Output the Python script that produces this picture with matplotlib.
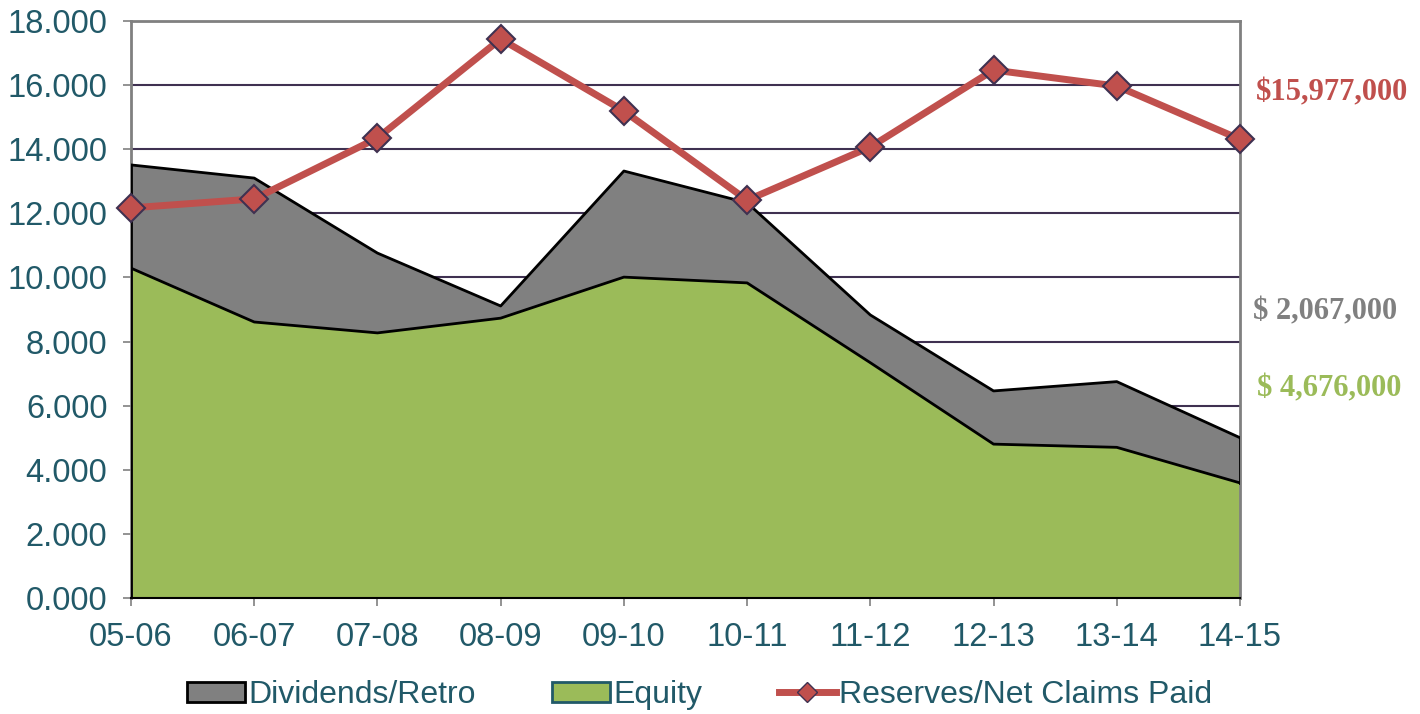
import numpy as np
import matplotlib
matplotlib.use('Agg')
import matplotlib.pyplot as plt
from matplotlib.patches import Patch
from matplotlib.lines import Line2D

# values in $ millions
years = ['05-06', '06-07', '07-08', '08-09', '09-10', '10-11', '11-12', '12-13', '13-14', '14-15']
equity = [10.29, 8.61, 8.27, 8.73, 10.01, 9.83, 7.34, 4.80, 4.70, 3.59]
dividends = [3.22, 4.49, 2.49, 0.38, 3.31, 2.50, 1.49, 1.66, 2.05, 1.41]
reserves = [12.17, 12.45, 14.35, 17.44, 15.19, 12.41, 14.07, 16.47, 15.97, 14.31]
yticks = [0, 2, 4, 6, 8, 10, 12, 14, 16, 18]

right_labels = ['$15,977,000', '$ 2,067,000', '$ 4,676,000']

c_red = '#C0504D'
c_gray = '#808080'
c_green = '#9BBB59'
c_text = '#215968'
c_grid = '#3F3151'

plt.rcParams['font.family'] = ['Liberation Sans', 'DejaVu Sans']

fig = plt.figure(figsize=(14.2, 7.14), dpi=100)
ax = fig.add_axes([131/1420, 1-598/714, (1240-131)/1420, (598-21)/714])

x = np.arange(len(years))
eq = np.array(equity)
tot = eq + np.array(dividends)

ax.fill_between(x, eq, tot, facecolor=c_gray, edgecolor='none', zorder=2)
ax.fill_between(x, 0, eq, facecolor=c_green, edgecolor='none', zorder=2)
ax.plot(x, tot, color='black', lw=2, zorder=3)
ax.plot(x, eq, color='black', lw=2, zorder=3)
ax.plot([x[-1], x[-1]], [eq[-1], tot[-1]], color='black', lw=2, zorder=3)
ax.plot([x[0], x[0]], [0, tot[0]], color='black', lw=2, zorder=3)

ax.plot(x, reserves, color=c_red, lw=5, marker='D', markersize=14,
        markerfacecolor=c_red, markeredgecolor=c_grid, markeredgewidth=1.5,
        zorder=5, clip_on=False)

ax.set_xlim(0, 9)
ax.set_ylim(0, 18)
ax.set_xticks(x)
ax.set_xticklabels(years)
ax.set_yticks(yticks)
ax.set_yticklabels([f'{v:.3f}' for v in yticks])
ax.tick_params(axis='both', direction='out', length=6, width=1.2, color=c_gray,
               labelsize=23.5, labelcolor=c_text)
ax.tick_params(axis='x', pad=11)
ax.tick_params(axis='y', pad=11)

ax.set_axisbelow(True)
ax.yaxis.grid(True, color=c_grid, lw=1.5)
for s in ['left', 'right', 'top']:
    ax.spines[s].set_color(c_gray)
    ax.spines[s].set_linewidth(2)
ax.spines['bottom'].set_color('black')
ax.spines['bottom'].set_linewidth(1.5)

# value labels to the right of the plot
fig.text(1256/1420, 1-93/714, right_labels[0], color=c_red, fontsize=22,
         fontweight='bold', family='Liberation Serif', va='center', ha='left')
fig.text(1253/1420, 1-312/714, right_labels[1], color=c_gray, fontsize=22,
         fontweight='bold', family='Liberation Serif', va='center', ha='left')
fig.text(1257/1420, 1-389/714, right_labels[2], color=c_green, fontsize=22,
         fontweight='bold', family='Liberation Serif', va='center', ha='left')

handles = [
    Patch(facecolor=c_gray, edgecolor='black', linewidth=2, label='Dividends/Retro'),
    Patch(facecolor=c_green, edgecolor=c_text, linewidth=2, label='Equity'),
    Line2D([], [], color=c_red, lw=5, marker='D', markersize=10,
           markerfacecolor=c_red, markeredgecolor=c_grid, label='Reserves/Net Claims Paid'),
]
leg = fig.legend(handles=handles, loc='center', bbox_to_anchor=(700/1420, 1-695/714),
                 ncol=3, frameon=False, fontsize=23, handlelength=1.8,
                 handletextpad=0.1, columnspacing=2.4, handleheight=0.6)
for t in leg.get_texts():
    t.set_color(c_text)

fig.savefig('out.png', dpi=100)
